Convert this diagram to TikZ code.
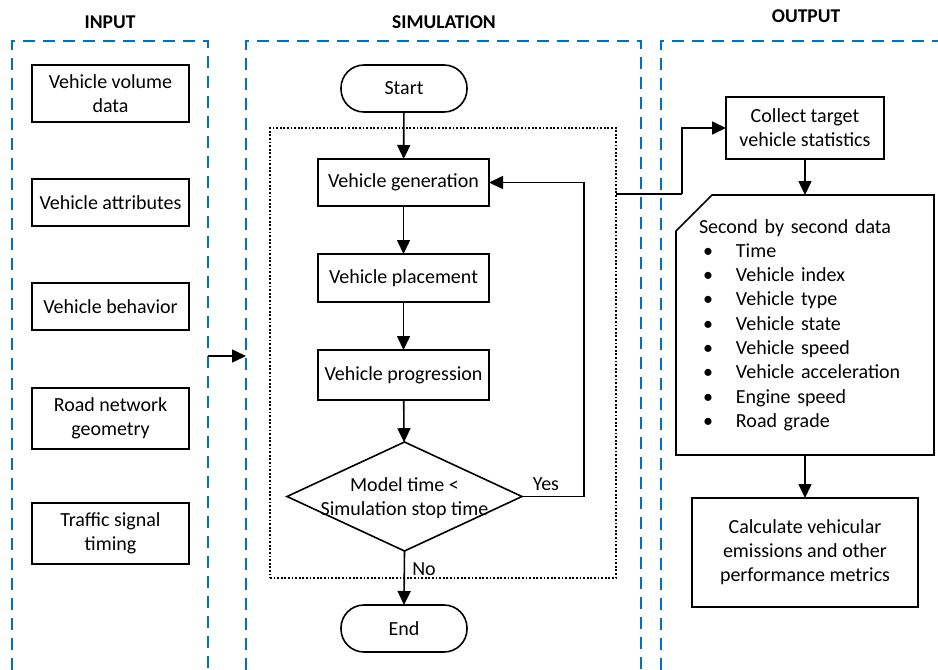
\documentclass[tikz,border=0pt]{standalone}
\usepackage{fontspec}
\setmainfont{Carlito}
\usetikzlibrary{arrows.meta,shapes.geometric}
\definecolor{dashblue}{RGB}{0,112,192}
\begin{document}
\begin{tikzpicture}[x=1pt,y=-1pt,
  font=\fontsize{20}{24}\selectfont,
  box/.style={draw,line width=1.6pt,inner sep=0pt,outer sep=0pt,align=center},
  term/.style={box,rounded corners=23pt},
  arr/.style={line width=1.6pt,-{Triangle[length=14pt,width=13pt]}},
  lane/.style={draw=dashblue,line width=1.9pt,dash pattern=on 12pt off 8pt},
  hdr/.style={font=\fontsize{19.5}{24}\selectfont\bfseries},
  lbl/.style={inner sep=0pt}
]
\useasboundingbox (0,0) rectangle (938,670);

% lanes (open at the bottom)
\draw[lane] (12,670) -- (12,41) -- (208,41) -- (208,670);
\draw[lane] (246,670) -- (246,41) -- (641,41) -- (641,670);
\draw[lane] (661,670) -- (661,41) -- (938,41);

% headers
\node[hdr] (hin) at (110,22) {INPUT};
\node[hdr] (hsim) at (444,22) {SIMULATION};
\node[hdr] (hout) at (806,16) {OUTPUT};

% inputs
\node[box,minimum width=157pt,minimum height=57pt] (in1) at (110.5,93.5) {Vehicle volume\\data};
\node[box,minimum width=157pt,minimum height=47pt] (in2) at (110.5,202.5) {Vehicle attributes};
\node[box,minimum width=157pt,minimum height=47pt] (in3) at (110.5,306.5) {Vehicle behavior};
\node[box,minimum width=157pt,minimum height=61pt] (in4) at (110.5,418.5) {Road network\\geometry};
\node[box,minimum width=157pt,minimum height=61pt] (in5) at (110.5,533.5) {Traffic signal\\timing};

\coordinate (inR) at (208,356);
\coordinate (simL) at (246,356);
\draw[arr] (inR) -- (simL);

% simulation
\node[draw,line width=1.4pt,dash pattern=on 1.8pt off 1.8pt,inner sep=0pt,outer sep=0pt,
      minimum width=346pt,minimum height=450pt] (loopbox) at (443,353) {};
\node[term,minimum width=126pt,minimum height=47pt] (start) at (404,88.5) {Start};
\node[box,minimum width=171pt,minimum height=47pt] (gen) at (403.5,182.5) {Vehicle generation};
\node[box,minimum width=171pt,minimum height=48pt] (place) at (403.5,278) {Vehicle placement};
\node[box,minimum width=171pt,minimum height=50pt] (prog) at (403.5,375) {Vehicle progression};
\node[draw,line width=1.6pt,diamond,inner sep=0pt,outer sep=0pt,
      minimum width=235pt,minimum height=109pt] (dec) at (404.5,496.5) {};
\node[lbl,align=center] (dectext) at (404.5,498.5) {Model time <\\Simulation stop time};
\node[term,minimum width=126pt,minimum height=47pt] (end) at (404,628.5) {End};

\draw[arr] (start) -- (gen);
\draw[arr] (gen) -- (place);
\draw[arr] (place) -- (prog);
\draw[arr] (prog) -- (dec);
\coordinate (loop) at (584,182.5);
\draw[arr] (dec.east) -| (loop) -- (gen.east);
\draw[arr] (dec.south) -- (end.north);
\node[lbl] (yes) at (546,484) {Yes};
\node[lbl] (no) at (424,569) {No};

% output
\node[box,minimum width=158pt,minimum height=62pt] (collect) at (805,128) {Collect target\\vehicle statistics};
\coordinate (simout) at (616,194);
\coordinate (bend) at (682,194);
\draw[line width=1.6pt] (simout) -- (bend);
\draw[arr] (bend) |- (collect.west);

\node[inner sep=0pt,outer sep=0pt,minimum width=258pt,minimum height=260pt,
      text width=212pt,inner xsep=23pt,align=left,
      font=\fontsize{20}{24.3}\selectfont] (card) at (805,325)
 {Second by second data\\
  \hspace*{4pt}\makebox[33pt][l]{\textbullet}Time\\
  \hspace*{4pt}\makebox[33pt][l]{\textbullet}Vehicle index\\
  \hspace*{4pt}\makebox[33pt][l]{\textbullet}Vehicle type\\
  \hspace*{4pt}\makebox[33pt][l]{\textbullet}Vehicle state\\
  \hspace*{4pt}\makebox[33pt][l]{\textbullet}Vehicle speed\\
  \hspace*{4pt}\makebox[33pt][l]{\textbullet}Vehicle acceleration\\
  \hspace*{4pt}\makebox[33pt][l]{\textbullet}Engine speed\\
  \hspace*{4pt}\makebox[33pt][l]{\textbullet}Road grade};
\draw[line width=1.6pt] ([xshift=36pt]card.north west) -- (card.north east)
  -- (card.south east) -- (card.south west) -- ([yshift=-36pt]card.north west) -- cycle;
\node[box,minimum width=226pt,minimum height=109pt] (calc) at (805,552.5) {Calculate vehicular\\emissions and other\\performance metrics};

\draw[arr] (collect.south) -- (card.north);
\draw[arr] (card.south) -- (calc.north);
\end{tikzpicture}
\end{document}
